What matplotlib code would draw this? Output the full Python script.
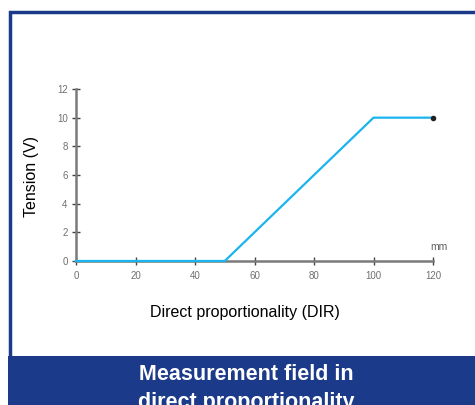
import matplotlib.pyplot as plt
from matplotlib.patches import Rectangle

# curve data
x_mm = [0, 50, 100, 120]
tension_v = [0, 0, 10, 10]
x_ticks = [0, 20, 40, 60, 80, 100, 120]
y_ticks = [0, 2, 4, 6, 8, 10, 12]

plt.rcParams['font.family'] = ['Liberation Sans', 'DejaVu Sans']

fig = plt.figure(figsize=(4.75, 4.05), dpi=100)
W, H = 475, 405
navy = '#1c3a8a'

# outer frame (blue border, open to the right)
fig.patches.append(Rectangle((9.5 / W, 0), 1.2, (H - 11.5) / H, transform=fig.transFigure,
                             fill=False, edgecolor=navy, linewidth=2.5, zorder=0))
# bottom title band
fig.patches.append(Rectangle((8 / W, 0), 1.0, 49 / H, transform=fig.transFigure,
                             facecolor=navy, edgecolor='none', zorder=1))
fig.text(246 / W, 25 / H, 'Measurement field in', color='white', fontsize=15.5,
         fontweight='bold', ha='center', va='baseline')
fig.text(246 / W, -3 / H, 'direct proportionality', color='white', fontsize=15.5,
         fontweight='bold', ha='center', va='baseline')

ax = fig.add_axes([76 / W, 144 / H, 357 / W, 172 / H])
ax.plot(x_mm, tension_v, color='#1ab4ee', linewidth=1.6, clip_on=False, zorder=3)
ax.plot(x_mm[-1], tension_v[-1], 'o', color='#222222', markersize=3, clip_on=False, zorder=4)

ax.set_xlim(0, 120)
ax.set_ylim(0, 12)
ax.set_xticks(x_ticks)
ax.set_yticks(y_ticks)
for s in ['top', 'right']:
    ax.spines[s].set_visible(False)
for s in ['left', 'bottom']:
    ax.spines[s].set_color('#7a7a7a')
    ax.spines[s].set_linewidth(1.8)
ax.tick_params(direction='inout', length=6, width=1, color='#444444',
               labelsize=7, labelcolor='#707070')
ax.tick_params(axis='x', pad=4.5)
ax.tick_params(axis='y', pad=3)

ax.set_xlabel('Direct proportionality (DIR)', fontsize=11.5)
ax.xaxis.set_label_coords(0.472, -0.255)
ax.set_ylabel('Tension (V)', fontsize=11.5)
ax.yaxis.set_label_coords(-0.105, 0.49)
ax.text(122, 1.0, 'mm', fontsize=7.5, color='#606060', ha='center', va='center')

fig.savefig('out.png', dpi=100)
